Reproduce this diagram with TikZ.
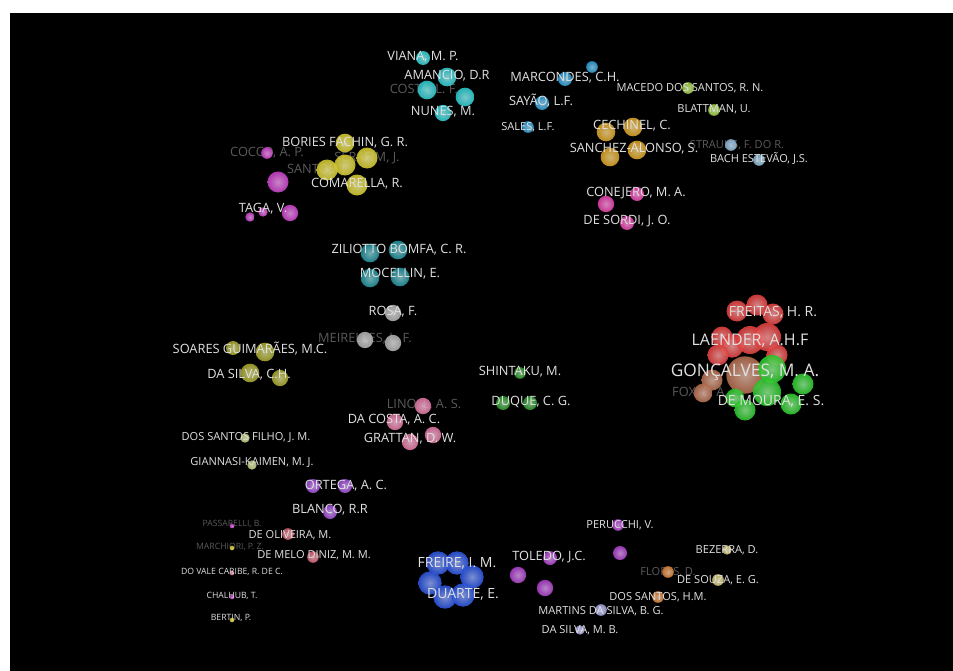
\documentclass[tikz,border=0pt]{standalone}
\usepackage{fontspec}
\setmainfont{Open Sans}
\pgfdeclarelayer{bg}\pgfsetlayers{bg,main}
\definecolor{lbltxt}{RGB}{225,225,225}
\definecolor{dimtxt}{RGB}{90,90,90}
\definecolor{cy}{RGB}{40,195,200}
\definecolor{yl}{RGB}{205,195,40}
\definecolor{mg}{RGB}{195,60,195}
\definecolor{bl}{RGB}{40,150,205}
\definecolor{lm}{RGB}{150,200,60}
\definecolor{lb}{RGB}{130,175,205}
\definecolor{gd}{RGB}{210,155,30}
\definecolor{pm}{RGB}{220,60,165}
\definecolor{tl}{RGB}{30,140,150}
\definecolor{gy}{RGB}{170,170,170}
\definecolor{dg}{RGB}{40,145,40}
\definecolor{pk}{RGB}{215,110,155}
\definecolor{rd}{RGB}{220,60,60}
\definecolor{br}{RGB}{175,105,75}
\definecolor{gn}{RGB}{40,195,40}
\definecolor{ol}{RGB}{160,160,40}
\definecolor{po}{RGB}{185,195,115}
\definecolor{pu}{RGB}{150,70,205}
\definecolor{ro}{RGB}{200,90,110}
\definecolor{rb}{RGB}{40,80,215}
\definecolor{pv}{RGB}{165,60,195}
\definecolor{kh}{RGB}{205,190,110}
\definecolor{or}{RGB}{205,120,50}
\definecolor{lv}{RGB}{155,155,215}
\tikzset{
  ball/.style={circle, inner sep=0pt, draw=none, inner color=#1!55!white, outer color=#1, opacity=0.9},
  edge/.style={line width=0.6pt, draw=#1!75!black},
  lbl/.style={text=lbltxt, inner sep=0pt, font=\fontsize{9.6}{10}\selectfont},
  lbls/.style={lbl, font=\fontsize{8.3}{9}\selectfont},
  lblxs/.style={lbl, font=\fontsize{6.5}{7}\selectfont},
  lblM/.style={lbl, font=\fontsize{10.5}{11}\selectfont},
  lblL/.style={lbl, font=\fontsize{12}{13}\selectfont},
  lblXL/.style={lbl, font=\fontsize{13}{14}\selectfont},
  dim/.style={text=dimtxt}
}
\newcommand\bn[5]{\node[ball=#5, minimum size=#4*1.75pt] (#1) at (#2,#3) {};}
\begin{document}
\begin{tikzpicture}[x=0.75pt,y=-0.75pt]
\useasboundingbox (0,0) rectangle (953,671);
\fill[white] (0,0) rectangle (953,671);
\fill[black] (10,13) rectangle (953,671);

% dim labels (behind)
\node[lbl,dim] (dcosta) at (424,90) {COSTA, L. F.};
\node[lbl,dim] (dcocco) at (267,153) {COCCO, A. P.};
\node[lbl,dim] (dserafim) at (367,158) {SERAFIM, J.};
\node[lbl,dim] (dsantos) at (318,170) {SANTOS, J.};
\node[lbls,dim] (dstrauhs) at (737,145) {STRAUHS, F. DO R.};
\node[lbl,dim] (dmeirelles) at (365,339) {MEIRELLES, L. F.};
\node[lbl,dim] (dlino) at (424,405) {LINO, L. A. S.};
\node[lbl,dim] (dfox) at (700,393) {FOX, E. A.};
\node[lblxs,dim] (dpass) at (232,524) {PASSARELLI, B.};
\node[lblxs,dim] (dmarch) at (230,547) {MARCHIORI, P. Z.};
\node[lbls,dim] (dflores) at (668,572) {FLORES, D.};

% cyan cluster
\bn{v1}{423}{58}{6}{cy}
\bn{v2}{447}{77}{8}{cy}
\bn{v3}{427}{90}{8}{cy}
\bn{v4}{465}{97}{8}{cy}
\bn{v5}{443}{113}{7}{cy}
% bories
\bn{b1}{345}{143}{8}{yl}
\bn{b2}{367}{158}{9}{yl}
\bn{b3}{345}{165}{9}{yl}
\bn{b4}{327}{170}{9}{yl}
\bn{b5}{357}{185}{9}{yl}
% taga
\bn{t1}{267}{153}{5}{mg}
\bn{t2}{278}{182}{9}{mg}
\bn{t3}{290}{213}{7}{mg}
\bn{t4}{250}{217}{4}{mg}
\bn{t5}{263}{212}{4}{mg}
% marcondes
\bn{m0}{592}{67}{5}{bl}
\bn{m1}{565}{79}{6}{bl}
\bn{m2}{542}{103}{6}{bl}
\bn{m3}{528}{127}{5}{bl}
% macedo
\bn{a1}{688}{88}{5}{lm}
\bn{a2}{714}{110}{5}{lm}
% strauhs
\bn{s1}{731}{145}{5}{lb}
\bn{s2}{759}{160}{5}{lb}
% cechinel
\bn{c1}{606}{132}{8}{gd}
\bn{c2}{633}{127}{8}{gd}
\bn{c3}{637}{150}{8}{gd}
\bn{c4}{610}{157}{8}{gd}
% conejero
\bn{k1}{637}{194}{6}{pm}
\bn{k2}{606}{204}{7}{pm}
\bn{k3}{627}{223}{6}{pm}
% ziliotto
\bn{z1}{370}{253}{8}{tl}
\bn{z2}{398}{250}{8}{tl}
\bn{z3}{370}{278}{8}{tl}
\bn{z4}{400}{277}{8}{tl}
% rosa
\bn{r1}{393}{313}{7}{gy}
\bn{r2}{365}{340}{7}{gy}
\bn{r3}{393}{343}{7}{gy}
% shintaku
\bn{h1}{520}{373}{5}{dg}
\bn{h2}{503}{403}{6}{dg}
\bn{h3}{530}{403}{6}{dg}
% lino
\bn{l1}{423}{406}{7}{pk}
\bn{l2}{395}{422}{7}{pk}
\bn{l3}{433}{435}{7}{pk}
\bn{l4}{410}{442}{7}{pk}
% big cluster: red
\bn{f1}{757}{305}{9}{rd}
\bn{f2}{737}{311}{9}{rd}
\bn{f3}{773}{314}{9}{rd}
\bn{f6}{722}{337}{9}{rd}
\bn{f7}{732}{346}{10}{rd}
\bn{f8}{718}{355}{9}{rd}
\bn{f9}{777}{355}{9}{rd}
\bn{f4}{750}{340}{12}{rd}
\bn{f5}{767}{337}{12}{rd}
% brown
\bn{g2}{712}{380}{9}{br}
\bn{g3}{703}{393}{8}{br}
\bn{g1}{745}{375}{16}{br}
% green
\bn{e1}{772}{369}{12}{gn}
\bn{e2}{803}{384}{9}{gn}
\bn{e6}{735}{398}{8}{gn}
\bn{e5}{745}{410}{9}{gn}
\bn{e4}{791}{404}{9}{gn}
\bn{e3}{767}{392}{12}{gn}
% soares
\bn{o1}{233}{348}{6}{ol}
\bn{o2}{265}{352}{8}{ol}
\bn{o3}{250}{373}{8}{ol}
\bn{o4}{280}{378}{7}{ol}
% dos santos filho
\bn{p1}{245}{438}{4}{po}
\bn{p2}{252}{465}{4}{po}
% ortega
\bn{q1}{313}{486}{6}{pu}
\bn{q2}{345}{486}{6}{pu}
\bn{q3}{330}{512}{6}{pu}
% de oliveira
\bn{w1}{288}{534}{5}{ro}
\bn{w2}{313}{557}{5}{ro}
% singles
\bn{x1}{232}{526}{2}{mg}
\bn{x2}{232}{548}{2}{yl}
\bn{x3}{232}{573}{2}{pk}
\bn{x4}{232}{597}{2}{mg}
\bn{x5}{232}{620}{2}{yl}
% freire
\bn{i1}{438}{563}{10}{rb}
\bn{i2}{457}{563}{10}{rb}
\bn{i3}{472}{577}{10}{rb}
\bn{i4}{430}{583}{10}{rb}
\bn{i5}{445}{597}{10}{rb}
\bn{i6}{463}{595}{10}{rb}
% toledo
\bn{j1}{550}{558}{6}{pv}
\bn{j2}{518}{575}{7}{pv}
\bn{j3}{545}{588}{7}{pv}
% perucchi
\bn{u1}{618}{525}{5}{pv}
\bn{u2}{620}{553}{6}{pv}
% bezerra
\bn{y1}{727}{550}{4}{kh}
\bn{y2}{718}{580}{5}{kh}
% flores
\bn{n1}{668}{572}{5}{or}
\bn{n2}{658}{597}{5}{or}
% martins
\bn{d1}{601}{610}{5}{lv}
\bn{d2}{580}{630}{4}{lv}

\begin{pgfonlayer}{bg}
\foreach \a/\b in {v1/v3,v1/v2,v2/v3,v2/v4,v3/v4,v3/v5,v4/v5,v2/v5}
  \draw[edge=cy] (\a.center) to[bend left=8] (\b.center);
\foreach \a/\b in {b1/b3,b1/b2,b2/b3,b2/b5,b3/b4,b3/b5,b4/b5}
  \draw[edge=yl] (\a.center) to[bend left=8] (\b.center);
\draw[edge=yl] (b1.center) to[bend left=25] (b5.center);
\draw[edge=mg] (t1.center) to[bend left=20] (t2.center);
\foreach \a/\b in {t2/t3,t2/t4,t4/t3,t2/t5}
  \draw[edge=mg] (\a.center) to[bend left=8] (\b.center);
\draw[edge=bl] (m0.center) -- (m1.center);
\draw[edge=bl] (m1.center) to[bend right=20] (m2.center);
\draw[edge=bl] (m2.center) to[bend right=20] (m3.center);
\draw[edge=lm] (a1.center) to[bend left=20] (a2.center);
\draw[edge=lb] (s1.center) to[bend left=20] (s2.center);
\foreach \a/\b in {c1/c2,c2/c3,c3/c4,c4/c1,c1/c3,c2/c4}
  \draw[edge=gd] (\a.center) to[bend left=15] (\b.center);
\foreach \a/\b in {k2/k1,k2/k3,k1/k3}
  \draw[edge=pm] (\a.center) to[bend left=12] (\b.center);
\foreach \a/\b in {z1/z2,z2/z4,z4/z3,z3/z1,z1/z4,z2/z3}
  \draw[edge=tl] (\a.center) to[bend left=12] (\b.center);
\draw[edge=gy] (r2.center) to[bend left=35] (r1.center);
\draw[edge=gy] (r1.center) to[bend left=10] (r3.center);
\draw[edge=gy] (r2.center) to[bend right=10] (r3.center);
\draw[edge=dg] (h1.center) to[bend right=15] (h2.center);
\draw[edge=dg] (h1.center) to[bend left=15] (h3.center);
\foreach \a/\b in {l1/l2,l1/l3,l1/l4,l2/l4,l3/l4,l2/l3}
  \draw[edge=pk] (\a.center) to[bend left=8] (\b.center);
\foreach \a/\b in {f1/f2,f1/f3,f1/f4,f1/f5,f2/f4,f3/f5,f3/f9,f2/f6,f6/f7,f7/f8,f4/f5,f4/f9,f5/f9,f4/g1,f5/g1,f7/g1,f8/g1,f9/e1}
  \draw[edge=rd] (\a.center) to[bend left=6] (\b.center);
\foreach \a/\b in {g1/g2,g2/g3,g1/g3}
  \draw[edge=br] (\a.center) to[bend left=6] (\b.center);
\foreach \a/\b in {e1/e2,e1/e3,e3/e4,e2/e4,e3/e5,e5/e6,e3/e6,e2/e3,g1/e1,g1/e3,g1/e5,e1/e4}
  \draw[edge=gn] (\a.center) to[bend left=6] (\b.center);
\foreach \a/\b in {o1/o3,o2/o3,o2/o4,o3/o4}
  \draw[edge=ol] (\a.center) to[bend left=10] (\b.center);
\draw[edge=po] (p1.center) to[bend left=15] (p2.center);
\draw[edge=pu] (q1.center) to[bend right=12] (q3.center);
\draw[edge=pu] (q2.center) to[bend left=12] (q3.center);
\draw[edge=ro] (w1.center) to[bend right=15] (w2.center);
\foreach \a/\b in {i1/i2,i2/i3,i3/i6,i6/i5,i5/i4,i4/i1,i1/i6,i2/i5,i4/i3}
  \draw[edge=rb] (\a.center) -- (\b.center);
\draw[edge=pv] (j2.center) to[bend left=20] (j1.center);
\draw[edge=pv] (j1.center) -- (j3.center);
\draw[edge=pv] (j2.center) to[bend right=15] (j3.center);
\draw[edge=pv] (u1.center) to[bend right=20] (u2.center);
\draw[edge=kh] (y1.center) to[bend left=20] (y2.center);
\draw[edge=or] (n1.center) to[bend right=15] (n2.center);
\draw[edge=lv] (d1.center) to[bend left=15] (d2.center);
\end{pgfonlayer}

% bright labels
\node[lbl] (Lviana) at (423,57) {VIANA, M. P.};
\node[lbl] (Lamancio) at (447,76) {AMANCIO, D.R};
\node[lbl] (Lnunes) at (443,112) {NUNES, M.};
\node[lbl] (Lbories) at (345,143) {BORIES FACHIN, G. R.};
\node[lbl] (Lcomarella) at (357,184) {COMARELLA, R.};
\node[lbl] (Ltaga) at (263,209) {TAGA, V.};
\node[lbl] (Lmarcondes) at (565,78) {MARCONDES, C.H.};
\node[lbl] (Lsayao) at (541,101) {SAYÃO, L.F.};
\node[lbls] (Lsales) at (528,127) {SALES, L.F.};
\node[lbls] (Lmacedo) at (690,88) {MACEDO DOS SANTOS, R. N.};
\node[lbls] (Lblattman) at (714,109) {BLATTMAN, U.};
\node[lbls] (Lbach) at (759,159) {BACH ESTEVÃO, J.S.};
\node[lbl] (Lcechinel) at (632,126) {CECHINEL, C.};
\node[lbl] (Lsanchez) at (634,149) {SANCHEZ-ALONSO, S.};
\node[lbl] (Lconejero) at (636,193) {CONEJERO, M. A.};
\node[lbl] (Lsordi) at (627,221) {DE SORDI, J. O.};
\node[lbl] (Lziliotto) at (399,250) {ZILIOTTO BOMFA, C. R.};
\node[lbl] (Lmocellin) at (400,274) {MOCELLIN, E.};
\node[lbl] (Lrosa) at (393,312) {ROSA, F.};
\node[lbl] (Lshintaku) at (520,372) {SHINTAKU, M.};
\node[lbl] (Lduque) at (531,402) {DUQUE, C. G.};
\node[lbl] (Ldacosta) at (394,420) {DA COSTA, A. C.};
\node[lbl] (Lgrattan) at (410,439) {GRATTAN, D. W.};
\node[lblM] (Lfreitas) at (773,312) {FREITAS, H. R.};
\node[lblL] (Llaender) at (750,341) {LAENDER, A.H.F};
\node[lblXL] (Lgoncalves) at (745,372) {GONÇALVES, M. A.};
\node[lblM] (Lmoura) at (771,401) {DE MOURA, E. S.};
\node[lbl] (Lsoares) at (250,349) {SOARES GUIMARÃES, M.C.};
\node[lbl] (Ldasilvach) at (249,375) {DA SILVA, C.H.};
\node[lbls] (Ldossantosf) at (246,438) {DOS SANTOS FILHO, J. M.};
\node[lbls] (Lgiannasi) at (252,463) {GIANNASI-KAIMEN, M. J.};
\node[lbl] (Lortega) at (346,486) {ORTEGA, A. C.};
\node[lbl] (Lblanco) at (330,510) {BLANCO, R.R};
\node[lbls] (Loliveira) at (290,535) {DE OLIVEIRA, M.};
\node[lbls] (Lmelo) at (314,555) {DE MELO DINIZ, M. M.};
\node[lblxs] (Lvale) at (232,572) {DO VALE CARIBE, R. DE C.};
\node[lblxs] (Lchalhub) at (232,596) {CHALHUB, T.};
\node[lblxs] (Lbertin) at (231,618) {BERTIN, P.};
\node[lblM] (Lfreire) at (457,563) {FREIRE, I. M.};
\node[lblM] (Lduarte) at (463,594) {DUARTE, E.};
\node[lbl] (Ltoledo) at (549,557) {TOLEDO, J.C.};
\node[lbls] (Lperucchi) at (620,525) {PERUCCHI, V.};
\node[lbls] (Lbezerra) at (727,550) {BEZERRA, D.};
\node[lbls] (Lsouza) at (718,580) {DE SOUZA, E. G.};
\node[lbls] (Ldossantoshm) at (658,597) {DOS SANTOS, H.M.};
\node[lbls] (Lmartins) at (601,611) {MARTINS DA SILVA, B. G.};
\node[lbls] (Ldasilvamb) at (580,630) {DA SILVA, M. B.};
\end{tikzpicture}
\end{document}
